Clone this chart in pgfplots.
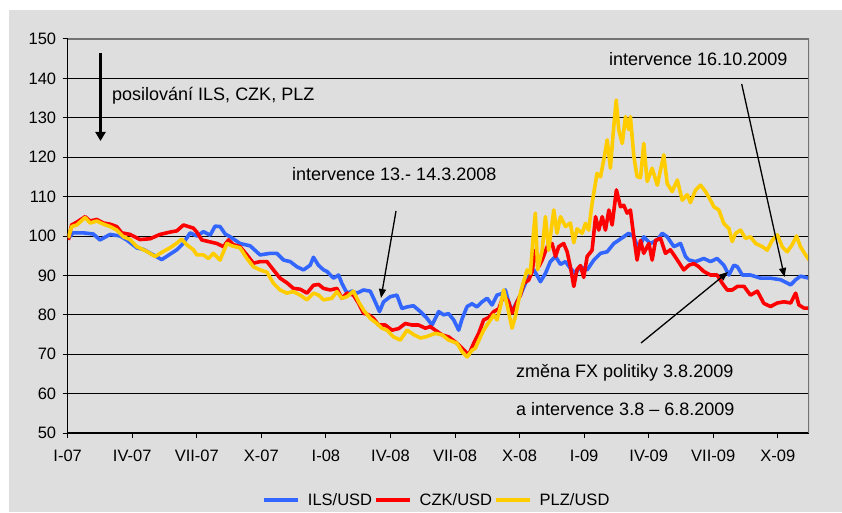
\documentclass[border=0pt]{standalone}
\usepackage{fontspec}
\setmainfont{Liberation Sans}
\usepackage{pgfplots}
\pgfplotsset{compat=1.18}
\usetikzlibrary{arrows.meta}
\definecolor{bgc}{RGB}{222,222,222}
\definecolor{ilsblue}{RGB}{51,102,255}
\definecolor{czkred}{RGB}{255,0,0}
\definecolor{plzyel}{RGB}{255,204,0}
\begin{document}
\begin{tikzpicture}
\useasboundingbox (0pt,0pt) rectangle (842pt,512pt);
\fill[bgc] (9pt,0pt) rectangle (842pt,502pt);
\begin{axis}[
  at={(67.7pt,79pt)}, anchor=south west,
  scale only axis, width=741.3pt, height=394pt,
  xmin=0, xmax=34.45, ymin=50, ymax=150,
  xtick={0,3,...,33},
  xticklabels={I-07,IV-07,VII-07,X-07,I-08,IV-08,VII-08,X-08,I-09,IV-09,VII-09,X-09},
  ytick={50,60,...,150},
  axis x line*=bottom, axis y line*=left,
  axis line style={-, black, line width=1.2pt},
  ymajorgrids, major grid style={black, line width=0.8pt},
  tick align=outside, major tick length=5pt,
  tick style={black, line width=1pt},
  /pgf/number format/assume math mode=true,
  tick label style={font=\fontsize{16.5}{19}\selectfont},
  yticklabel style={xshift=-3pt},
  xticklabel style={yshift=-8pt},
  legend style={at={(0.498,-0.17)}, anchor=center, draw=none, fill=none,
    legend columns=3, font=\fontsize{16.5}{19}\selectfont,
    /tikz/every odd column/.append style={column sep=6pt}},
  legend image code/.code={\draw[#1,line width=3.6pt] (0pt,0pt) -- (34pt,0pt);},
  every axis plot/.append style={line width=3.6pt, line join=round},
]
\addplot[ilsblue] coordinates {(0.03,99.5) (0.26,100.8) (0.73,100.8) (1.19,100.5) (1.5,99) (1.97,100.4) (2.43,100) (2.74,99) (3.21,97) (3.52,96.6) (3.98,95.2) (4.37,94) (4.76,95.4) (5.07,96.5) (5.38,98.2) (5.69,100.8) (6.0,100) (6.31,101.1) (6.62,100.2) (6.85,102.5) (7.08,102.4) (7.32,100.5) (7.55,99.8) (8.01,98.1) (8.48,97.5) (8.94,95.2) (9.41,95.6) (9.72,95.6) (10.03,93.9) (10.34,93.5) (10.65,92.2) (10.96,91.4) (11.27,92.6) (11.42,94.6) (11.65,92.6) (11.89,91.4) (12.05,91) (12.35,89.3) (12.59,90.1) (12.74,88) (12.98,85.5) (13.21,86) (13.44,85.5) (13.75,86.3) (14.06,86) (14.29,83.3) (14.49,80.8) (14.68,83.3) (14.99,84.6) (15.3,85) (15.53,81.6) (15.77,82) (16.07,82.3) (16.39,80.8) (16.7,79.1) (16.93,77.4) (17.24,80.8) (17.47,80) (17.7,80.3) (17.94,78.7) (18.17,76.1) (18.33,79) (18.56,82.1) (18.79,82.8) (19.02,82) (19.26,83.3) (19.49,84.2) (19.72,82.5) (19.95,85) (20.19,85.4) (20.34,86.3) (20.49,83.3) (20.65,80.8) (20.8,82.5) (21.04,85) (21.27,88) (21.5,90.5) (21.66,91.4) (21.81,90) (21.97,88.4) (22.2,90.5) (22.43,93.5) (22.67,94.8) (22.9,92.8) (23.13,93.5) (23.36,91.8) (23.59,90.5) (23.83,92.2) (24.14,91.4) (24.45,93.9) (24.76,95.6) (25.07,96) (25.38,98.1) (25.84,99.8) (26.07,100.7) (26.31,99.8) (26.54,96.5) (26.77,99.8) (27.08,98.1) (27.4,99) (27.63,100.7) (27.86,99.8) (28.17,97.3) (28.48,98.1) (28.71,94.8) (28.87,93.9) (29.18,93.5) (29.56,94.3) (29.87,93.5) (30.18,94.3) (30.49,92.6) (30.73,90.1) (30.96,92.6) (31.12,92.2) (31.35,90.1) (31.73,90.1) (32.2,89.3) (32.66,89.3) (33.13,88.9) (33.6,87.6) (33.83,88.9) (34.06,89.8) (34.45,89.3)};
\addlegendentry{ILS/USD}
\addplot[czkred] coordinates {(0.03,99) (0.18,102.8) (0.42,103.5) (0.81,104.9) (1.04,103.8) (1.35,104.2) (1.66,103.3) (1.97,103) (2.28,102.4) (2.51,100.8) (2.9,100.4) (3.36,99.1) (3.83,99.3) (4.29,100.4) (4.76,101) (5.07,101.3) (5.38,102.8) (5.61,102.4) (5.84,102) (6.0,101) (6.23,99) (6.62,98.5) (6.93,98.1) (7.24,97.3) (7.47,99) (7.7,97.8) (8.01,97.3) (8.33,95.2) (8.63,93.1) (8.94,93.5) (9.26,93.5) (9.56,91.4) (9.87,89.3) (10.19,88.1) (10.49,86.7) (10.8,86.5) (11.12,85.5) (11.42,87.5) (11.66,87.7) (11.89,86.7) (12.2,86.3) (12.51,86.7) (12.74,84.2) (12.98,85.5) (13.28,85) (13.52,82.9) (13.75,80.4) (13.98,80) (14.21,79.1) (14.45,77.4) (14.76,77.4) (15.07,76.1) (15.38,76.5) (15.69,77.8) (16.0,77.4) (16.31,77.4) (16.62,76.6) (16.85,77) (17.08,76.1) (17.4,74.9) (17.7,74.4) (18.09,72.8) (18.4,71.1) (18.63,69.8) (18.87,72.8) (19.1,75.3) (19.33,78.7) (19.56,79.3) (19.8,80.8) (20.03,81.5) (20.26,85) (20.49,83.3) (20.65,80.4) (20.88,83.3) (21.04,85) (21.19,88) (21.42,88.8) (21.58,90.9) (21.73,96.4) (21.89,92.2) (22.05,93.9) (22.28,97.3) (22.51,98.1) (22.67,94.8) (22.82,97.3) (23.05,98.1) (23.21,96) (23.36,92.2) (23.52,87.2) (23.67,91.5) (23.83,92.5) (23.98,89.5) (24.14,94.8) (24.37,96.4) (24.53,104.9) (24.68,101.5) (24.84,104.9) (24.99,101.5) (25.15,106.6) (25.3,102.8) (25.5,111.7) (25.69,107.4) (25.84,107.8) (26.0,105.8) (26.15,106.6) (26.31,99.8) (26.46,93.9) (26.62,98.9) (26.77,95.6) (27.01,98.1) (27.16,93.9) (27.32,98.9) (27.55,99.4) (27.78,95.6) (28.01,96.5) (28.33,93.9) (28.63,91.4) (28.87,92.6) (29.1,93) (29.33,92.2) (29.56,91) (29.87,90.1) (30.18,90.1) (30.42,88) (30.65,86.3) (30.88,86.3) (31.12,87.2) (31.43,87.2) (31.73,85) (32.05,86) (32.35,82.9) (32.66,82.1) (32.98,83) (33.29,83.3) (33.6,83) (33.83,85.5) (33.98,82.5) (34.22,81.7) (34.45,81.7)};
\addlegendentry{CZK/USD}
\addplot[plzyel] coordinates {(0.03,99.5) (0.18,102.4) (0.42,102.8) (0.81,104.7) (1.04,103.3) (1.35,103.8) (1.66,103) (1.97,102.4) (2.28,101.5) (2.59,99.8) (2.9,99.1) (3.21,97.3) (3.67,96.1) (4.06,94.8) (4.45,96.1) (4.76,97) (5.07,98.2) (5.3,99.2) (5.53,97.8) (5.84,96.5) (6.0,95.2) (6.31,95.2) (6.54,94.3) (6.77,95.6) (7.08,93.9) (7.4,98.1) (7.63,97.5) (8.01,97) (8.33,94.3) (8.63,92.2) (8.94,91.4) (9.26,90.8) (9.56,88) (9.87,86.3) (10.19,85.5) (10.49,85.9) (10.8,85) (11.12,83.8) (11.42,85.5) (11.66,85) (11.89,83.8) (12.28,84.2) (12.51,85.9) (12.74,84.2) (12.98,84.6) (13.28,86) (13.52,83.3) (13.75,81.2) (14.06,79.1) (14.37,77.8) (14.6,76.6) (14.84,76.1) (15.14,74.4) (15.46,73.6) (15.77,76.1) (16.07,75) (16.39,74.1) (16.7,74.5) (17.08,75.3) (17.4,74.9) (17.7,73.6) (18.09,72.8) (18.33,70.6) (18.56,69.3) (18.79,71) (18.94,71.5) (19.18,74.4) (19.33,76.1) (19.56,78) (19.8,80) (19.95,78.7) (20.11,82.1) (20.26,86.3) (20.42,82.5) (20.65,76.6) (20.8,79.5) (20.96,83.8) (21.12,87.2) (21.35,91.4) (21.5,90.5) (21.62,99) (21.73,105.8) (21.84,91.4) (22.05,96.4) (22.2,104.9) (22.35,96.4) (22.59,106.6) (22.74,100.7) (22.9,104.9) (23.13,102.4) (23.36,103.3) (23.52,98.3) (23.67,101.8) (23.91,100.7) (24.06,103.2) (24.21,101.5) (24.37,108.3) (24.6,115.9) (24.76,115) (24.91,119.3) (25.07,124.4) (25.22,117.2) (25.35,126.1) (25.49,134.5) (25.61,126.9) (25.77,123.5) (25.92,130.3) (26.07,127) (26.15,130.3) (26.31,120.2) (26.46,115.1) (26.62,114.8) (26.77,123.5) (26.93,113.8) (27.16,117.2) (27.4,112.9) (27.7,120.6) (27.86,113.3) (28.09,111.3) (28.33,114.2) (28.56,109.1) (28.79,110.5) (28.94,108.5) (29.18,111.7) (29.41,112.9) (29.64,111.3) (29.87,109.1) (30.03,107.4) (30.26,106.6) (30.49,103.2) (30.73,101.9) (30.88,98.6) (31.04,100.7) (31.27,101.5) (31.5,99.4) (31.73,99.8) (31.97,98.1) (32.28,97.3) (32.51,96.4) (32.74,98.9) (32.98,100.3) (33.21,97.2) (33.44,96) (33.67,97.8) (33.87,100) (34.06,97.2) (34.29,95.2) (34.45,93.9)};
\addlegendentry{PLZ/USD}
\draw[black!55, line width=1.5pt] (rel axis cs:0,1) -- (rel axis cs:1,1) -- (rel axis cs:1,0);
\end{axis}
\begin{scope}[font=\fontsize{18}{21}\selectfont]
\node[anchor=west, inner sep=0pt] at (112pt,416pt) {posilování ILS, CZK, PLZ};
\node[anchor=west, inner sep=0pt] at (292pt,338pt) {intervence 13.- 14.3.2008};
\node[anchor=west, inner sep=0pt] at (609pt,453pt) {intervence 16.10.2009};
\node[anchor=west, inner sep=0pt] at (516pt,139pt) {změna FX politiky 3.8.2009};
\node[anchor=west, inner sep=0pt] at (516pt,103pt) {a intervence 3.8 – 6.8.2009};
\end{scope}
\draw[line width=2.5pt, -{Triangle[length=9pt,width=10pt]}] (100.5pt,459pt) -- (100.5pt,371pt);
\draw[line width=1.3pt, -{Triangle[length=9pt,width=7pt]}] (396pt,301pt) -- (381pt,214pt);
\draw[line width=1.3pt, -{Triangle[length=9pt,width=7pt]}] (741.7pt,428pt) -- (784.5pt,235pt);
\draw[line width=1.3pt, -{Triangle[length=9pt,width=7pt]}] (641pt,169pt) -- (728pt,240pt);
\end{tikzpicture}
\end{document}
